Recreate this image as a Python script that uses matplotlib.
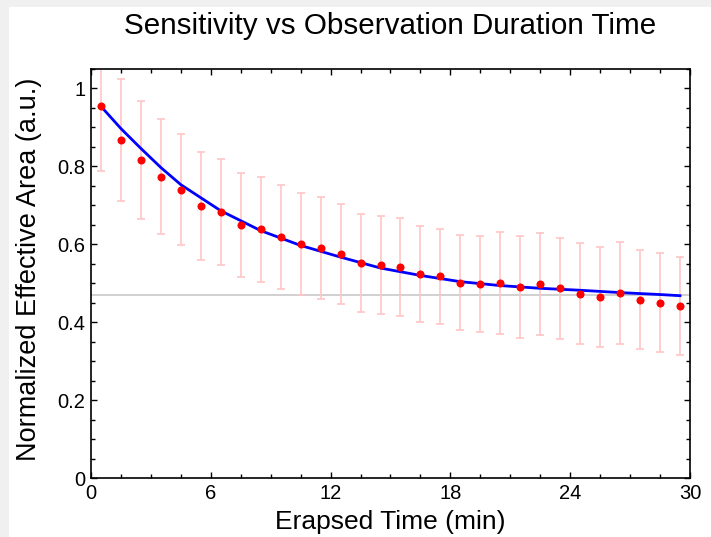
import matplotlib
matplotlib.use('Agg')
import matplotlib.pyplot as plt
from matplotlib.patches import Rectangle
from matplotlib.ticker import MultipleLocator

plt.rcParams['font.family'] = ['Liberation Sans', 'DejaVu Sans']

# measured points (min, normalized effective area)
t = [0.5, 1.5, 2.5, 3.5, 4.5, 5.5, 6.5, 7.5, 8.5, 9.5,
     10.5, 11.5, 12.5, 13.5, 14.5, 15.5, 16.5, 17.5, 18.5, 19.5,
     20.5, 21.5, 22.5, 23.5, 24.5, 25.5, 26.5, 27.5, 28.5, 29.5]
area = [0.954, 0.868, 0.817, 0.774, 0.740, 0.698, 0.684, 0.650, 0.639, 0.618,
        0.601, 0.590, 0.575, 0.552, 0.547, 0.541, 0.524, 0.518, 0.501, 0.498,
        0.501, 0.490, 0.498, 0.487, 0.473, 0.464, 0.475, 0.458, 0.450, 0.441]
err = [0.165, 0.157, 0.151, 0.147, 0.142, 0.139, 0.136, 0.133, 0.135, 0.134,
       0.130, 0.131, 0.128, 0.126, 0.126, 0.126, 0.124, 0.122, 0.122, 0.122,
       0.131, 0.130, 0.131, 0.130, 0.130, 0.128, 0.130, 0.128, 0.127, 0.126]

# fitted curve
fit_t = [0.5, 1.5, 2.5, 3.5, 4.5, 6.5, 8.5, 10.5, 12.5, 14.5,
         16.5, 18.5, 20.5, 22.5, 24.5, 26.5, 28.5, 29.5]
fit_y = [0.954, 0.897, 0.846, 0.797, 0.753, 0.686, 0.635, 0.597, 0.567, 0.539,
         0.520, 0.504, 0.494, 0.487, 0.482, 0.476, 0.471, 0.468]

baseline = 0.47

fig = plt.figure(figsize=(7.11, 5.37), dpi=100, facecolor='#f0f0f0')
fig.patches.append(Rectangle((9 / 711, 0), 1, 1 - 7 / 537, transform=fig.transFigure,
                             facecolor='white', edgecolor='none', zorder=-10))

ax = fig.add_axes([91 / 711, 59 / 537, 599 / 711, 409 / 537])
ax.set_zorder(1)

ax.axhline(baseline, color='#c8c8c8', lw=1.2, zorder=1)
ax.errorbar(t, area, yerr=err, fmt='none', ecolor='#ffc6c6', elinewidth=1.2,
            capsize=3, capthick=1.2, zorder=2)
ax.plot(fit_t, fit_y, color='#0000ff', lw=2, zorder=3)
ax.plot(t, area, 'o', color='#ff0000', markersize=5.8, markeredgewidth=0, zorder=4)

ax.set_xlim(0, 30)
ax.set_ylim(0, 1.05)
ax.xaxis.set_major_locator(MultipleLocator(6))
ax.xaxis.set_minor_locator(MultipleLocator(1.5))
ax.yaxis.set_minor_locator(MultipleLocator(0.05))
ax.set_yticks([0, 0.2, 0.4, 0.6, 0.8, 1])
ax.set_yticklabels(['0', '0.2', '0.4', '0.6', '0.8', '1'])

ax.tick_params(which='both', direction='in', top=True, right=True, labelsize=14.5,
               width=1, color='black')
ax.tick_params(which='major', length=4.5, pad=4)
ax.tick_params(which='minor', length=3)
for s in ax.spines.values():
    s.set_linewidth(1.2)

ax.set_xlabel('Erapsed Time (min)', fontsize=19)
ax.set_ylabel('Normalized Effective Area (a.u.)', fontsize=19.5)
ax.xaxis.set_label_coords(0.5, -0.078)
ax.yaxis.set_label_coords(-0.082, 0.51)
fig.text(390 / 711, 1 - 26 / 537, 'Sensitivity vs Observation Duration Time',
         ha='center', va='center', fontsize=21.3)

fig.savefig('out.png', dpi=100, facecolor=fig.get_facecolor())
